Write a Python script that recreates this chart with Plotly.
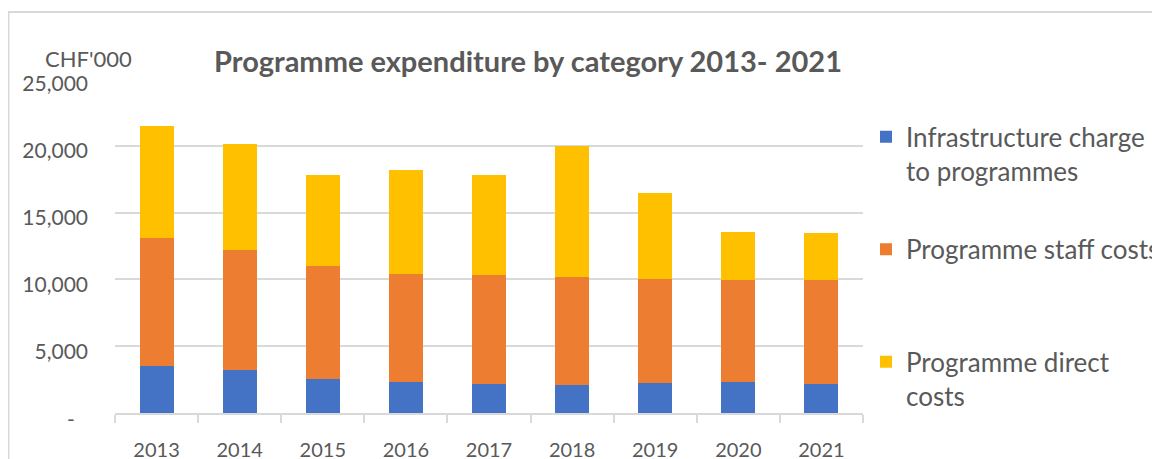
import plotly.graph_objects as go

years = ["2013", "2014", "2015", "2016", "2017", "2018", "2019", "2020", "2021"]
infrastructure = [3500, 3200, 2530, 2300, 2150, 2080, 2230, 2300, 2150]
staff = [9600, 9000, 8480, 8110, 8190, 8110, 7810, 7660, 7810]
direct = [8350, 7900, 6770, 7800, 7510, 9760, 6460, 3610, 3530]

series_names = ["Infrastructure charge<br>to programmes", "Programme staff costs<br>\u00a0", "Programme direct<br>costs"]
series_colors = ["#4472C4", "#ED7D31", "#FFC000"]
y_tickvals = [0, 5000, 10000, 15000, 20000, 25000]
y_ticktext = ["-", "5,000", "10,000", "15,000", "20,000", "25,000"]

FONT = "Lato, Carlito, Calibri, sans-serif"
GREY = "#595959"

# page body has an 8px margin: figure coordinates = screen coordinates - 8
OFF = 8
W, H = 1160, 459
PL, PR, PT, PB = 115 - OFF, 863 - OFF, 79.3 - OFF, 412.7 - OFF
PW, PH = PR - PL, PB - PT
Y_MAX = 25000
LABEL_SHIFT = 5 / PH * Y_MAX  # tick labels sit ~5px below their gridlines


def px_x(sx):
    return (sx - OFF - PL) / PW


def px_y(sy):
    return (PB - (sy - OFF)) / PH


fig = go.Figure()
for name, vals, col in zip(series_names, [infrastructure, staff, direct], series_colors):
    fig.add_trace(go.Bar(x=years, y=vals, name=name, marker=dict(color=col, line=dict(width=0)),
                         legendgroup=name))

# invisible helper trace so the (label-only) overlaying y axis is drawn
fig.add_trace(go.Scatter(x=years, y=infrastructure, yaxis="y2", mode="markers",
                         marker=dict(opacity=0), showlegend=False, hoverinfo="skip"))

fig.update_layout(
    width=W, height=H,
    barmode="stack", bargap=0.59,
    paper_bgcolor="white", plot_bgcolor="white",
    margin=dict(l=PL, r=W - PR, t=PT, b=H - PB, autoexpand=False),
    font=dict(family=FONT, color=GREY, size=20),
    title=dict(text="<b>Programme expenditure by category 2013- 2021</b>",
               x=(528 - OFF) / W, xanchor="center", y=1 - (62 - OFF) / H, yanchor="middle",
               font=dict(family=FONT, size=29, color=GREY)),
    legend=dict(x=px_x(866), xanchor="left", y=px_y(113.5), yanchor="top",
                traceorder="grouped", tracegroupgap=42, valign="top",
                font=dict(family=FONT, size=26, color=GREY)),
    showlegend=True,
    yaxis=dict(range=[0, Y_MAX], tickvals=y_tickvals, showticklabels=False, automargin=False,
               showgrid=True, gridcolor="#d9d9d9", gridwidth=1.5,
               zeroline=False, showline=False, ticks=""),
    yaxis2=dict(overlaying="y", side="left", range=[LABEL_SHIFT, Y_MAX + LABEL_SHIFT],
                tickvals=y_tickvals[1:], ticktext=y_ticktext[1:], automargin=False,
                showgrid=False, zeroline=False, showline=False, ticks="", ticklabelstandoff=26,
                tickfont=dict(family=FONT, size=21, color=GREY)),
)
fig.update_xaxes(showline=True, linecolor="#d9d9d9", linewidth=1.5, automargin=False,
                 ticks="outside", tickson="boundaries", ticklen=8, tickcolor="#d9d9d9",
                 tickwidth=1.5, ticklabelstandoff=18,
                 tickfont=dict(family=FONT, size=20, color=GREY))

# zero label ("-") drawn in Excel's accounting style, a little left of the other labels
fig.add_annotation(text=y_ticktext[0], xref="paper", yref="paper",
                   x=px_x(77), y=px_y(418), xanchor="right", yanchor="middle",
                   showarrow=False, font=dict(family=FONT, size=21, color=GREY))

fig.add_annotation(text="CHF'000", xref="paper", yref="paper",
                   x=px_x(88), y=px_y(59), xanchor="center", yanchor="middle",
                   showarrow=False, font=dict(family=FONT, size=22, color=GREY))

# outer chart frame
fig.add_shape(type="rect", xref="paper", yref="paper",
              x0=px_x(8.5), x1=px_x(1250),
              y0=px_y(560), y1=px_y(12.5),
              line=dict(color="#d9d9d9", width=2), fillcolor="rgba(0,0,0,0)", layer="below")

fig.write_html("out.html")
